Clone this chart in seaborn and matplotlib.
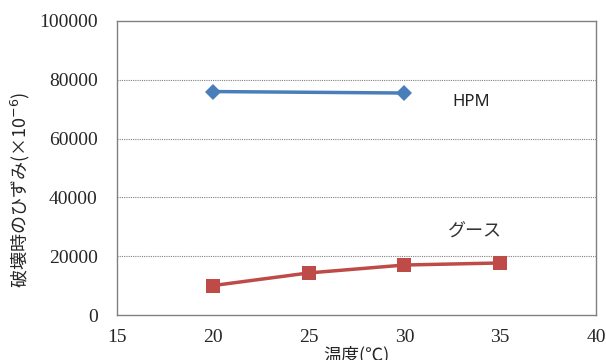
import matplotlib
matplotlib.use("Agg")
import matplotlib.pyplot as plt
import seaborn as sns
import pandas as pd

# Failure strain vs temperature
temps_hpm = [20, 30]
strain_hpm = [76000, 75500]
temps_guss = [20, 25, 30, 35]
strain_guss = [10000, 14300, 17000, 17700]
x_ticks = [15, 20, 25, 30, 35, 40]
y_ticks = [0, 20000, 40000, 60000, 80000, 100000]

sns.set_theme(style="white")
plt.rcParams['font.family'] = ['Liberation Serif', 'Noto Sans CJK JP', 'DejaVu Sans']

df_hpm = pd.DataFrame({"temp": temps_hpm, "strain": strain_hpm})
df_guss = pd.DataFrame({"temp": temps_guss, "strain": strain_guss})

fig = plt.figure(figsize=(6.06, 3.6), dpi=100)
ax = fig.add_axes([0.193, 0.125, 0.7905, 0.8167])

for yv in y_ticks[1:-1]:
    ax.axhline(yv, color="#808080", lw=0.8, ls=(0, (1, 1)), zorder=0)

sns.lineplot(data=df_hpm, x="temp", y="strain", ax=ax, color="#4a7ebb",
             lw=2.5, marker="D", markersize=8.5, markeredgewidth=0)
sns.lineplot(data=df_guss, x="temp", y="strain", ax=ax, color="#be4b48",
             lw=2.5, marker="s", markersize=9.5, markeredgewidth=0)

ax.set_xlim(15, 40)
ax.set_ylim(0, 100000)
ax.set_xticks(x_ticks)
ax.set_yticks(y_ticks)
ax.set_xticklabels([str(v) for v in x_ticks], fontsize=14)
ax.set_yticklabels([str(v) for v in y_ticks], fontsize=14)
ax.tick_params(axis="x", direction="in", length=4, width=0.8, color="#808080", pad=10)
ax.tick_params(axis="y", length=0, pad=14)
for s in ax.spines.values():
    s.set_color("#808080")
    s.set_linewidth(1.0)

ax.set_xlabel("温度(℃)", fontsize=13, family=['Noto Sans CJK JP'], labelpad=0)
ax.set_ylabel("破壊時のひずみ(×10$^{-6}$)", fontsize=13, family=['Noto Sans CJK JP', 'DejaVu Sans'])
ax.yaxis.set_label_coords(-0.178, 0.425)

ax.text(33.48, 72450, "HPM", fontsize=12, family=['Noto Sans', 'DejaVu Sans'], color="#222222", va="center", ha="center")
ax.text(33.69, 28230, "グース", fontsize=13, family=['Noto Sans CJK JP'], color="#333333", va="center", ha="center")

fig.savefig("out.png", dpi=100)
